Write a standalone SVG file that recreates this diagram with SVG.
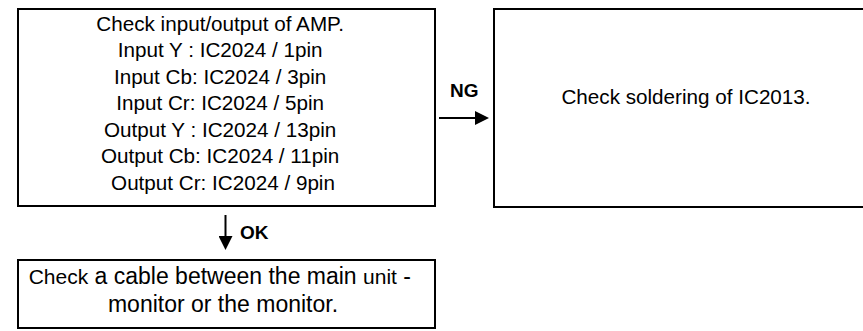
<svg xmlns="http://www.w3.org/2000/svg" width="863" height="331" viewBox="0 0 863 331">
<style>
.box{fill:#fff;stroke:#000;stroke-width:2}
.t{font-family:"Liberation Sans",Arial,sans-serif;fill:#000}
.b{font-family:"Liberation Sans",Arial,sans-serif;font-weight:bold;fill:#000}
.ln{stroke:#000;stroke-width:2;fill:none}
</style>
<defs>
<marker id="ah" markerWidth="14" markerHeight="14" refX="1" refY="7" orient="auto" markerUnits="userSpaceOnUse" viewBox="0 0 14 14">
<path d="M0,0 L14,7 L0,14 Z" fill="#000"/>
</marker>
</defs>
<rect width="863" height="331" fill="#fff"/>
<g id="node-amp">
<rect class="box" x="18" y="9" width="417" height="197"/>
<g transform="translate(223,0) scale(1.06,1)">
<text class="t" font-size="19.5" text-anchor="middle">
<tspan x="0" y="31">Check input/output of AMP.</tspan>
<tspan x="0" y="57.5">Input Y : IC2024 / 1pin</tspan>
<tspan x="0" y="84">Input Cb: IC2024 / 3pin</tspan>
<tspan x="0" y="110.5">Input Cr: IC2024 / 5pin</tspan>
<tspan x="0" y="137">Output Y : IC2024 / 13pin</tspan>
<tspan x="0" y="163.5">Output Cb: IC2024 / 11pin</tspan>
<tspan x="0" y="190">Output Cr: IC2024 / 9pin</tspan>
</text>
</g>
</g>
<g id="node-solder">
<rect class="box" x="494" y="9" width="380" height="198"/>
<g transform="translate(686,0) scale(1.06,1)">
<text class="t" font-size="19.5" text-anchor="middle" x="0" y="104">Check soldering of IC2013.</text>
</g>
</g>
<g id="node-cable">
<rect class="box" x="18" y="260" width="417" height="68"/>
<text class="t" text-anchor="middle" font-size="23">
<tspan x="223" y="284"><tspan font-size="21">Check</tspan> a cable between the main <tspan font-size="21">unit</tspan> -</tspan>
<tspan x="223" y="312">monitor or the monitor.</tspan>
</text>
</g>
<g id="connectors">
<line class="ln" x1="439" y1="118" x2="476" y2="118" marker-end="url(#ah)"/>
<line class="ln" x1="225.5" y1="215" x2="225.5" y2="237" marker-end="url(#ah)"/>
</g>
<g id="labels">
<text class="b" font-size="19" x="450" y="97">NG</text>
<text class="b" font-size="19" x="240" y="239">OK</text>
</g>
</svg>
